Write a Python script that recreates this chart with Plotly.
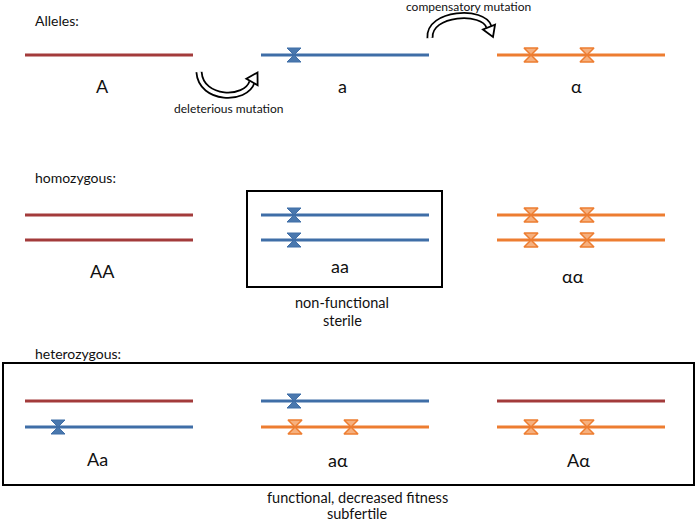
import plotly.graph_objects as go

# ---- data ----
column_x_start = [25, 261, 497]
chromosome_length = 168
row_names = ["alleles", "homozygous", "heterozygous"]
row_chrom_y = [[55], [215, 240], [401, 427]]
row_genotypes = [["A", "a", "α"], ["AA", "aa", "αα"], ["Aa", "aα", "Aα"]]
row_label_x = [[102, 342, 576], [102, 340, 573], [97, 338, 578]]
row_label_y = [[86, 86, 86], [271, 266, 276], [459, 460, 460]]
headings = ["Alleles:", "homozygous:", "heterozygous:"]
heading_y = [20, 177, 353]
mutation_offsets = {"A": [], "a": [33], "α": [34, 90]}
allele_color = {"A": "#A33B3B", "a": "#3F6EA7", "α": "#ED7D31"}
marker_fill = {"a": "#4A78AE", "α": "#F6B07E"}

boxes = [[247, 191, 442, 287], [3, 363, 694, 485]]
captions = ["deleterious mutation", "compensatory mutation", "non-functional", "sterile",
            "functional, decreased fitness", "subfertile"]
caption_x = [228, 468, 342, 342, 357, 357]
caption_y = [108, 6, 302, 320, 497, 513]

# curved block arrows: start, control1, control2, end, tip
arrow_curves = [
    [(199, 72), (201, 101), (246, 101), (252, 82), (257.5, 72.5)],
    [(430, 38), (428, 12), (484, 9), (489, 27), (493, 37)],
]

FONT = "Lato"

fig = go.Figure()

for r, genos in enumerate(row_genotypes):
    for c, g in enumerate(genos):
        x0 = column_x_start[c]
        for k, al in enumerate(g):
            y = row_chrom_y[r][k]
            fig.add_trace(go.Scatter(x=[x0, x0 + chromosome_length], y=[y, y], mode="lines",
                                     line=dict(color=allele_color[al], width=3),
                                     hoverinfo="skip", showlegend=False))
            offs = mutation_offsets[al]
            if offs:
                fig.add_trace(go.Scatter(x=[x0 + o for o in offs], y=[y] * len(offs), mode="markers",
                                         marker=dict(symbol="hourglass", size=14,
                                                     color=marker_fill[al],
                                                     line=dict(color=allele_color[al], width=1.5 if al == "α" else 1)),
                                         hoverinfo="skip", showlegend=False))
        fig.add_annotation(x=row_label_x[r][c], y=row_label_y[r][c], text=g, showarrow=False,
                           xanchor="center", yanchor="middle",
                           font=dict(family=FONT, size=18, color="#111"))
    fig.add_annotation(x=33, y=heading_y[r], text=headings[r], showarrow=False,
                       xanchor="left", yanchor="middle",
                       font=dict(family=FONT, size=14, color="#111"))

for t, x, y in zip(captions, caption_x, caption_y):
    size = 12 if "mutation" in t else 14.5
    fig.add_annotation(x=x, y=y, text=t, showarrow=False, xanchor="center", yanchor="middle",
                       font=dict(family=FONT, size=size, color="#111"))

shapes = []
for b in boxes:
    shapes.append(dict(type="rect", xref="x", yref="y", x0=b[0], y0=b[1], x1=b[2], y1=b[3],
                       line=dict(color="black", width=2), fillcolor="rgba(0,0,0,0)"))

for (p0, p1, p2, p3, tip) in arrow_curves:
    path = f"M {p0[0]},{p0[1]} C {p1[0]},{p1[1]} {p2[0]},{p2[1]} {p3[0]},{p3[1]}"
    shapes.append(dict(type="path", path=path, xref="x", yref="y", line=dict(color="black", width=7)))
    shapes.append(dict(type="path", path=path, xref="x", yref="y", line=dict(color="white", width=3.5)))
    dx, dy = tip[0] - p3[0], tip[1] - p3[1]
    n = (dx * dx + dy * dy) ** 0.5
    px, py = -dy / n * 6.5, dx / n * 6.5
    tri = f"M {p3[0]+px},{p3[1]+py} L {tip[0]},{tip[1]} L {p3[0]-px},{p3[1]-py} Z"
    shapes.append(dict(type="path", path=tri, xref="x", yref="y",
                       line=dict(color="black", width=1.8), fillcolor="white"))

fig.update_layout(
    width=697, height=524, autosize=False,
    margin=dict(l=0, r=0, t=0, b=0),
    paper_bgcolor="white", plot_bgcolor="white",
    xaxis=dict(range=[0, 697], visible=False, fixedrange=True),
    yaxis=dict(range=[524, 0], visible=False, fixedrange=True),
    shapes=shapes,
)

fig.write_html("out.html", config={"displayModeBar": False},
               post_script="document.body.style.margin='0';document.body.style.overflow='hidden';")
